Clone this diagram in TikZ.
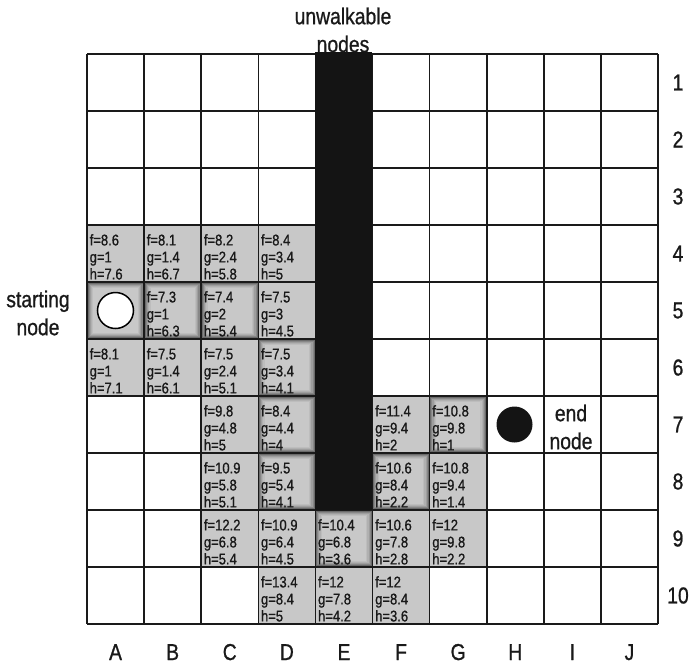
\documentclass[tikz,border=0pt]{standalone}
\usepackage{fontspec}
\setmainfont[FakeStretch=0.84,FakeBold=0.9]{Liberation Sans}
\definecolor{cellgray}{HTML}{C8C8C8}
\definecolor{gridcol}{HTML}{1A1A1A}
\definecolor{wallcol}{HTML}{141414}
\tikzset{
  cellfill/.style={fill=cellgray},
  gridline/.style={line width=1.6pt, draw=gridcol},
  celltext/.style={anchor=north west, inner sep=0pt, align=left, font=\fontsize{15.5}{17}\selectfont, text=black!90},
  biglabel/.style={inner sep=0pt, align=center, font=\fontsize{23}{28}\selectfont, text=black!90},
  axislabel/.style={inner sep=0pt, font=\fontsize{23}{28}\selectfont, text=black!90},
}
\begin{document}
\begin{tikzpicture}[x=1pt,y=-1pt]
\useasboundingbox (0,0) rectangle (692,664);
% shaded cells
\foreach \c/\r in {1/4,2/4,3/4,4/4,1/5,2/5,3/5,4/5,1/6,2/6,3/6,4/6,3/7,4/7,6/7,7/7,3/8,4/8,6/8,7/8,3/9,4/9,5/9,6/9,7/9,4/10,5/10,6/10}{
  \pgfmathsetmacro\xl{87+57.1*(\c-1)}
  \pgfmathsetmacro\yt{54+57*(\r-1)}
  \fill[cellfill] (\xl,\yt) rectangle ++(57.1,57);
}
% inner glow on path cells
\foreach \c/\r in {1/5,2/5,3/5,4/6,4/7,4/8,5/9,6/8,7/7}{
  \pgfmathsetmacro\xl{87+57.1*(\c-1)}
  \pgfmathsetmacro\yt{54+57*(\r-1)}
  \foreach \i/\k in {1/58,2.2/47,3.4/38,4.6/31,5.8/26}{
    \draw[line width=1.3pt, draw=black!\k] (\xl+\i,\yt+\i) rectangle (\xl+57.1-\i,\yt+57-\i);
  }
}
% cell texts
\foreach \c/\r/\f/\g/\h in {1/4/8.6/1/7.6,2/4/8.1/1.4/6.7,3/4/8.2/2.4/5.8,4/4/8.4/3.4/5,
  2/5/7.3/1/6.3,3/5/7.4/2/5.4,4/5/7.5/3/4.5,
  1/6/8.1/1/7.1,2/6/7.5/1.4/6.1,3/6/7.5/2.4/5.1,4/6/7.5/3.4/4.1,
  3/7/9.8/4.8/5,4/7/8.4/4.4/4,6/7/11.4/9.4/2,7/7/10.8/9.8/1,
  3/8/10.9/5.8/5.1,4/8/9.5/5.4/4.1,6/8/10.6/8.4/2.2,7/8/10.8/9.4/1.4,
  3/9/12.2/6.8/5.4,4/9/10.9/6.4/4.5,5/9/10.4/6.8/3.6,6/9/10.6/7.8/2.8,7/9/12/9.8/2.2,
  4/10/13.4/8.4/5,5/10/12/7.8/4.2,6/10/12/8.4/3.6}{
  \pgfmathsetmacro\xl{87+57.1*(\c-1)}
  \pgfmathsetmacro\yt{54+57*(\r-1)}
  \node[celltext] (t\c-\r) at (\xl+2.5,\yt+9) {f=\f\\g=\g\\h=\h};
}
% grid
\foreach \i in {0,...,10}{
  \draw[gridline] (87+57.1*\i,54) -- (87+57.1*\i,624);
  \draw[gridline] (87,54+57*\i) -- (658,54+57*\i);
}
% unwalkable wall
\fill[wallcol] (315.4,52) rectangle (371.5,510);
% start and end
\node[circle, draw=black, line width=1.5pt, fill=white, minimum size=36pt, inner sep=0pt] (start) at (115.5,310.5) {};
\node[circle, fill=wallcol, minimum size=36pt, inner sep=0pt] (goal) at (514.5,424.5) {};
% labels
\node[biglabel] (unw) at (343,30) {unwalkable\\nodes};
\node[biglabel] (startlbl) at (38,313) {starting\\node};
\node[biglabel] (endlbl) at (571,427) {end\\node};
\foreach \r in {1,...,10}{
  \node[axislabel] (row\r) at (678,54+57*\r-28.5) {\r};
}
\foreach \l [count=\i] in {A,B,C,D,E,F,G,H,I,J}{
  \node[axislabel, anchor=base] (col\l) at (87+57.1*\i-28.55,660) {\l};
}
\end{tikzpicture}
\end{document}
